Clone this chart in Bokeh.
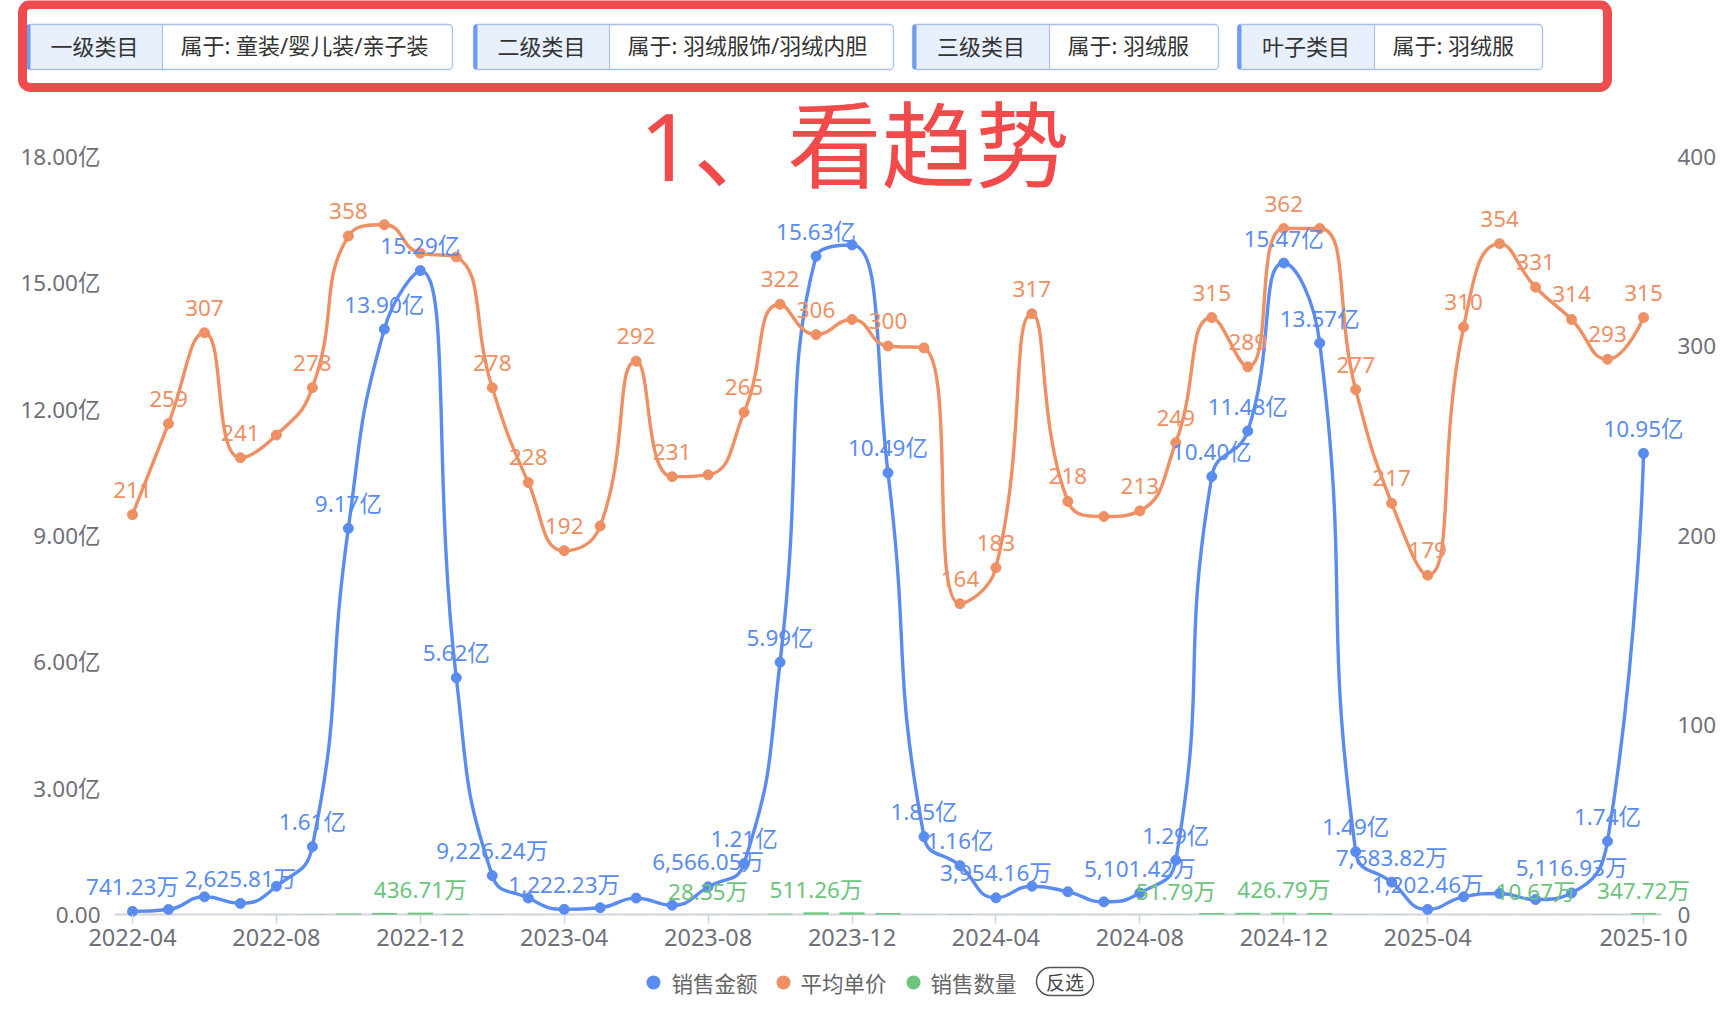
import math
from bokeh.plotting import figure
from bokeh.models import (Range1d, LinearAxis, FixedTicker, ColumnDataSource,
                          LabelSet, Label, BoxAnnotation)
from bokeh.core.properties import value
from bokeh.embed import file_html
from bokeh.resources import INLINE

# ---------------- data ----------------
months = ["2022-04", "2022-05", "2022-06", "2022-07", "2022-08", "2022-09", "2022-10",
          "2022-11", "2022-12", "2023-01", "2023-02", "2023-03", "2023-04", "2023-05",
          "2023-06", "2023-07", "2023-08", "2023-09", "2023-10", "2023-11", "2023-12",
          "2024-01", "2024-02", "2024-03", "2024-04", "2024-05", "2024-06", "2024-07",
          "2024-08", "2024-09", "2024-10", "2024-11", "2024-12", "2025-01", "2025-02",
          "2025-03", "2025-04", "2025-05", "2025-06", "2025-07", "2025-08", "2025-09",
          "2025-10"]

# 销售金额 (万)
sales_amount_wan = [741.23, 1200, 4200, 2625.81, 6700, 16100, 91700, 139000, 152900, 56200,
                    9226.24, 3900, 1222.23, 1600, 3900, 2200, 6566.05, 12100, 59900, 156300,
                    159000, 104900, 18500, 11600, 3954.16, 6700, 5400, 3000, 5101.42, 12900,
                    104000, 114800, 154700, 135700, 14900, 7683.82, 1202.46, 4200, 5000, 3550,
                    5116.93, 17400, 109500]

# 平均单价
avg_price = [211, 259, 307, 241, 253, 278, 358, 364, 349, 347, 278, 228, 192, 205, 292, 231,
             232, 265, 322, 306, 314, 300, 299, 164, 183, 317, 218, 210, 213, 249, 315, 289,
             362, 362, 277, 217, 179, 310, 354, 331, 314, 293, 315]

# 销售数量 (万)
sales_qty_wan = [3.51, 4.63, 13.68, 10.90, 26.48, 57.91, 256.15, 381.87, 436.71, 161.96,
                 33.19, 17.11, 6.37, 7.80, 13.36, 9.52, 28.35, 45.66, 186.02, 511.26,
                 506.37, 349.67, 61.87, 70.73, 21.61, 21.14, 24.77, 14.29, 23.95, 51.79,
                 330.16, 397.23, 426.79, 374.86, 53.79, 35.41, 6.72, 13.55, 14.12, 10.67,
                 16.30, 59.39, 347.72]

# months whose value labels are displayed
amount_label_months = ["2022-04", "2022-07", "2022-09", "2022-10", "2022-11", "2022-12",
                       "2023-01", "2023-02", "2023-04", "2023-08", "2023-09", "2023-10",
                       "2023-11", "2024-01", "2024-02", "2024-03", "2024-04", "2024-08",
                       "2024-09", "2024-10", "2024-11", "2024-12", "2025-01", "2025-02",
                       "2025-03", "2025-04", "2025-08", "2025-09", "2025-10"]
price_label_months = ["2022-04", "2022-05", "2022-06", "2022-07", "2022-09", "2022-10",
                      "2023-02", "2023-03", "2023-04", "2023-06", "2023-07", "2023-09",
                      "2023-10", "2023-11", "2024-01", "2024-03", "2024-04", "2024-05",
                      "2024-06", "2024-08", "2024-09", "2024-10", "2024-11", "2024-12",
                      "2025-02", "2025-03", "2025-04", "2025-05", "2025-06", "2025-07",
                      "2025-08", "2025-09", "2025-10"]
qty_label_months = ["2022-12", "2023-08", "2023-11", "2024-09", "2024-12", "2025-07", "2025-10"]

x_tick_months = ["2022-04", "2022-08", "2022-12", "2023-04", "2023-08", "2023-12",
                 "2024-04", "2024-08", "2024-12", "2025-04", "2025-10"]
left_ticks = [0, 3, 6, 9, 12, 15, 18]
left_tick_labels = ["0.00", "3.00亿", "6.00亿", "9.00亿", "12.00亿", "15.00亿", "18.00亿"]
right_ticks = [0, 100, 200, 300, 400]

header_tags = [("一级类目", "属于: 童装/婴儿装/亲子装"),
               ("二级类目", "属于: 羽绒服饰/羽绒内胆"),
               ("三级类目", "属于: 羽绒服"),
               ("叶子类目", "属于: 羽绒服")]
title_text = "1、看趋势"
legend_names = ["销售金额", "平均单价", "销售数量"]
invert_text = "反选"

# ---------------- style / layout ----------------
CJK = "Noto Sans CJK SC"
MIX = "'Noto Sans', 'Noto Sans CJK SC'"
BLUE = "#5a8cf0"
ORANGE = "#ee9063"
GREEN = "#6cc47d"
AXIS_TXT = "#6e7079"
W, H = 1736, 1012
FL, FR, FT, FB = 114, 1661, 156, 914      # plotting grid (pixels)
Y_MAX, P_MAX = 18.0, 400.0

n = len(months)
xs = list(range(n))
amount_yi = [v / 10000.0 for v in sales_amount_wan]
qty_yi = [v / 10000.0 for v in sales_qty_wan]

kx = (FR - FL) / n
ky = (FB - FT) / Y_MAX
kp = (FB - FT) / P_MAX
x0, x1 = -0.5, n - 0.5

# the frame spans the whole canvas; ranges are extended so the grid sits at FL..FR / FT..FB
p = figure(width=W, height=H,
           x_range=Range1d(x0 - FL / kx, x1 + (W - FR) / kx),
           y_range=Range1d(-(H - FB) / ky, FB / ky),
           output_backend="svg", toolbar_location=None, min_border=0,
           background_fill_color="white", border_fill_color="white",
           outline_line_color=None)
p.title.visible = False
p.extra_y_ranges = {"price": Range1d(-(H - FB) / kp, FB / kp)}
p.xgrid.visible = False
p.ygrid.visible = False


def style_value_axis(ax, standoff):
    ax.axis_line_color = None
    ax.major_tick_line_color = None
    ax.minor_tick_line_color = None
    ax.major_tick_out = 0
    ax.major_tick_in = 0
    ax.minor_tick_out = 0
    ax.minor_tick_in = 0
    ax.major_label_standoff = standoff
    ax.major_label_text_font = MIX
    ax.major_label_text_font_size = "22.5px"
    ax.major_label_text_color = AXIS_TXT


la = p.left[0]
la.ticker = FixedTicker(ticks=left_ticks)
la.major_label_overrides = {t: s for t, s in zip(left_ticks, left_tick_labels)}
la.fixed_location = x0
style_value_axis(la, 14)

ra = LinearAxis(y_range_name="price", ticker=FixedTicker(ticks=right_ticks),
                fixed_location=x1)
style_value_axis(ra, 16)
p.add_layout(ra, "right")

ba = p.below[0]
ba.ticker = FixedTicker(ticks=[months.index(m) for m in x_tick_months])
ba.major_label_overrides = {months.index(m): m for m in x_tick_months}
ba.fixed_location = 0
ba.axis_line_color = None
ba.major_tick_line_color = "#cfd3da"
ba.major_tick_line_width = 1.5
ba.major_tick_out = 9
ba.major_tick_in = 0
ba.minor_tick_line_color = None
ba.minor_tick_out = 0
ba.major_label_standoff = 5
ba.major_label_text_font = MIX
ba.major_label_text_font_size = "23.5px"
ba.major_label_text_color = AXIS_TXT

# grid baseline
p.segment(x0=[x0], y0=[0], x1=[x1], y1=[0], line_color="#cfd3da", line_width=1.8)


# smooth curve like the original chart library (bezier through the data points)
def smooth_segments(xv, yv, sx, sy, smooth=0.5):
    pts = [(a * sx, b * sy) for a, b in zip(xv, yv)]
    segs = {k: [] for k in ("x0", "y0", "x1", "y1", "cx0", "cy0", "cx1", "cy1")}
    cpx0, cpy0 = pts[0]
    for k in range(1, len(pts)):
        px, py = pts[k - 1]
        x, y = pts[k]
        if k == len(pts) - 1:
            cpx1, cpy1 = x, y
            ncx, ncy = x, y
        else:
            nx, ny = pts[k + 1]
            vx, vy = nx - px, ny - py
            lp = math.hypot(x - px, y - py)
            ln = math.hypot(nx - x, ny - y)
            r = ln / (ln + lp)
            ncx = x + vx * smooth * r
            ncy = y + vy * smooth * r
            ncx = max(min(ncx, max(nx, x)), min(nx, x))
            ncy = max(min(ncy, max(ny, y)), min(ny, y))
            vx, vy = ncx - x, ncy - y
            cpx1 = x - vx * lp / ln
            cpy1 = y - vy * lp / ln
            cpx1 = max(min(cpx1, max(px, x)), min(px, x))
            cpy1 = max(min(cpy1, max(py, y)), min(py, y))
            vx, vy = x - cpx1, y - cpy1
            ncx = x + vx * ln / lp
            ncy = y + vy * ln / lp
        segs["x0"].append(px / sx); segs["y0"].append(py / sy)
        segs["x1"].append(x / sx); segs["y1"].append(y / sy)
        segs["cx0"].append(cpx0 / sx); segs["cy0"].append(cpy0 / sy)
        segs["cx1"].append(cpx1 / sx); segs["cy1"].append(cpy1 / sy)
        cpx0, cpy0 = ncx, ncy
    return segs


# green bars (销售数量)
p.vbar(x=xs, top=qty_yi, bottom=0, width=0.7, fill_color=GREEN, line_color=None)

# blue line (销售金额)
bs = smooth_segments(xs, amount_yi, kx, ky)
p.bezier(source=ColumnDataSource(bs), x0="x0", y0="y0", x1="x1", y1="y1",
         cx0="cx0", cy0="cy0", cx1="cx1", cy1="cy1", line_color=BLUE, line_width=3.4)
p.scatter(x=xs, y=amount_yi, size=10, fill_color=BLUE, line_color=BLUE)

# orange line (平均单价)
os_ = smooth_segments(xs, avg_price, kx, kp)
p.bezier(source=ColumnDataSource(os_), x0="x0", y0="y0", x1="x1", y1="y1",
         cx0="cx0", cy0="cy0", cx1="cx1", cy1="cy1", line_color=ORANGE, line_width=3.4,
         y_range_name="price")
p.scatter(x=xs, y=avg_price, size=10, fill_color=ORANGE, line_color=ORANGE,
          y_range_name="price")


def fmt_amount(v):
    if v >= 10000:
        return "%.2f亿" % (v / 10000.0)
    return "{:,.2f}万".format(v)


def label_source(sel, yvals, texts):
    idx = [months.index(m) for m in sel]
    return ColumnDataSource(dict(x=idx, y=[yvals[i] for i in idx], t=[texts[i] for i in idx]))


qty_src = label_source(qty_label_months, qty_yi, ["{:,.2f}万".format(v) for v in sales_qty_wan])
amt_src = label_source(amount_label_months, amount_yi, [fmt_amount(v) for v in sales_amount_wan])
prc_src = label_source(price_label_months, avg_price, [str(v) for v in avg_price])

LBL = dict(text_align="center", text_baseline="middle", text_font=value(MIX),
           text_font_size=value("22.5px"))
p.add_layout(LabelSet(x="x", y="y", text="t", source=qty_src, y_offset=23,
                      text_color=GREEN, **LBL))
p.add_layout(LabelSet(x="x", y="y", text="t", source=amt_src, y_offset=25,
                      text_color=BLUE, **LBL))
p.add_layout(LabelSet(x="x", y="y", text="t", source=prc_src, y_offset=25,
                      y_range_name="price", text_color=ORANGE, **LBL))


def cbox(l, r, t, b, **kw):
    return BoxAnnotation(left=l, right=r, top=t, bottom=b, left_units="canvas",
                         right_units="canvas", top_units="canvas", bottom_units="canvas",
                         **kw)


def ctext(x, y, text, size, color, align="center", font=CJK):
    return Label(x=x, y=y, x_units="canvas", y_units="canvas", text=text,
                 text_align=align, text_baseline="middle", text_font=font,
                 text_font_size=size, text_color=color)


# ---------------- header ----------------
tag_geo = [(26, 162, 452), (473, 609, 893), (912, 1049, 1218), (1237, 1374, 1542)]
TT, TB = 24, 69
for (l, s, r), (k, v) in zip(tag_geo, header_tags):
    p.add_layout(cbox(l, r, TT, TB, fill_color="white", fill_alpha=1, line_color=None,
                      border_radius=4))
    p.add_layout(cbox(l, s, TT, TB, fill_color="#e9f0fd", fill_alpha=1, line_color=None,
                      border_radius=4))
    p.add_layout(cbox(l, r, TT, TB, fill_color=None, fill_alpha=0, line_color="#a9c0e8",
                      line_alpha=1, line_width=1.3, border_radius=4))
    p.add_layout(cbox(s - 0.6, s + 0.6, TT, TB, fill_color="#a9c0e8", fill_alpha=1,
                      line_color=None))
    p.add_layout(cbox(l, l + 4, TT, TB, fill_color="#6f9cf0", fill_alpha=1, line_color=None,
                      border_radius=2))
    p.add_layout(ctext((l + s) / 2, (TT + TB) / 2 - 2, k, "22px", "#333333"))
    p.add_layout(ctext(s + 18, (TT + TB) / 2 - 2, v, "22px", "#333333", align="left",
                       font=MIX))

p.add_layout(cbox(22, 1607, 4, 87, fill_color=None, fill_alpha=0, line_color="#f04b4e",
                  line_alpha=1, line_width=9, border_radius=8))

p.add_layout(ctext(854, 144, title_text, "94px", "#f04a4a", font=MIX))

# ---------------- legend ----------------
LY = 982
for cx, tx, name, col in zip([653, 783, 913], [671, 800, 930], legend_names,
                             [BLUE, ORANGE, GREEN]):
    p.add_layout(cbox(cx - 7, cx + 7, LY - 7, LY + 7, fill_color=col, fill_alpha=1,
                      line_color=None, border_radius=7))
    p.add_layout(ctext(tx, LY, name, "21.5px", "#666666", align="left"))
p.add_layout(cbox(1036, 1093, 967, 995, fill_color="white", fill_alpha=1,
                  line_color="#555555", line_alpha=1, line_width=1.5, border_radius=14))
p.add_layout(ctext(1064.5, 981, invert_text, "19px", "#444444"))

open("out.html", "w").write(file_html(p, INLINE))
